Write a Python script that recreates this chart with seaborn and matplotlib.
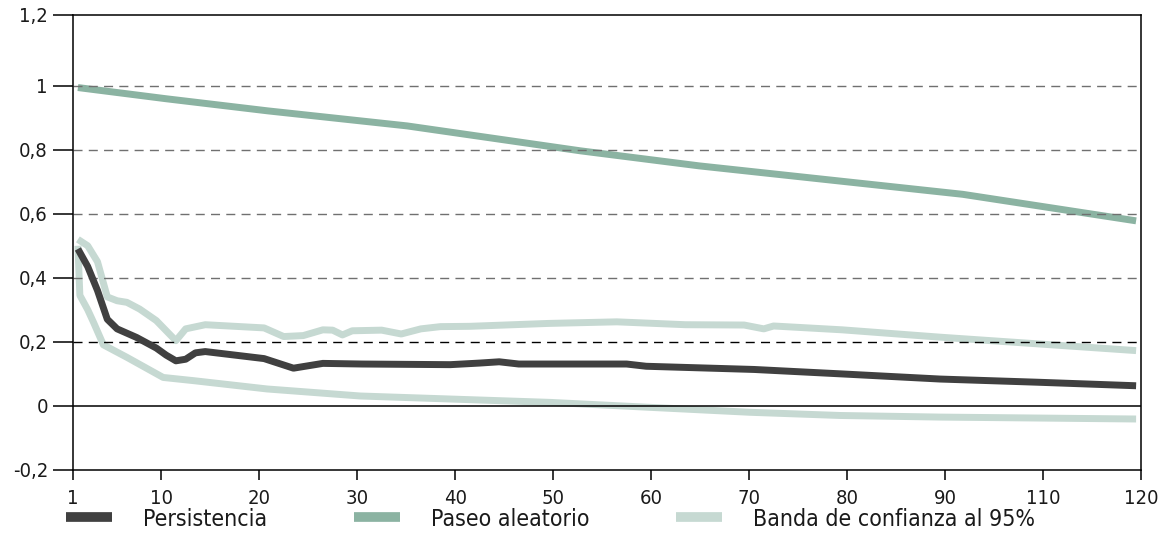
import matplotlib
matplotlib.use("Agg")
import matplotlib.pyplot as plt
import pandas as pd
import seaborn as sns

# horizonte (posición de categoría) y valores
pers_h = [1, 2, 3, 4, 5, 7, 9, 10, 11, 12, 13, 14, 20, 23, 26, 30, 39, 42, 44, 46,
          57, 59, 70, 79, 89, 99, 109]
pers_v = [0.49, 0.435, 0.36, 0.27, 0.24, 0.213, 0.18, 0.158, 0.14, 0.145, 0.165, 0.169,
          0.147, 0.117, 0.132, 0.130, 0.128, 0.133, 0.137, 0.130, 0.130, 0.123, 0.113,
          0.099, 0.083, 0.073, 0.062]

paseo_h = [1, 10, 20.4, 34.6, 52.3, 64.4, 91.3, 109]
paseo_v = [0.995, 0.96, 0.922, 0.875, 0.797, 0.75, 0.661, 0.578]

banda_sup_h = [1, 2, 3, 4, 5, 6, 7.3, 9, 11, 12, 14, 20, 22, 24, 26, 27, 28, 29, 32, 34,
               36, 38, 41, 49, 56, 63, 69, 71, 72, 79, 89, 99, 109]
banda_sup_v = [0.52, 0.50, 0.45, 0.34, 0.328, 0.323, 0.302, 0.266, 0.203, 0.24, 0.253,
               0.243, 0.216, 0.219, 0.237, 0.236, 0.221, 0.234, 0.236, 0.224, 0.240,
               0.247, 0.248, 0.257, 0.262, 0.253, 0.252, 0.240, 0.249, 0.237, 0.214,
               0.193, 0.172]

banda_inf_h = [1, 1.2, 2, 2.6, 3.6, 6, 9.7, 12.8, 20.3, 29.8, 49.2, 59.7, 69.6, 78.8,
               89, 109]
banda_inf_v = [0.50, 0.345, 0.30, 0.26, 0.19, 0.151, 0.088, 0.078, 0.052, 0.030, 0.010,
               -0.006, -0.021, -0.031, -0.036, -0.042]

series = ["Persistencia", "Paseo aleatorio", "Banda de confianza al 95%"]
colores = ["#404040", "#8bb3a2", "#c6d9d2"]

x_labels = ["1", "10", "20", "30", "40", "50", "60", "70", "80", "90", "110", "120"]
y_vals = [-0.2, 0, 0.2, 0.4, 0.6, 0.8, 1.0, 1.2]
y_labels = ["-0,2", "0", "0,2", "0,4", "0,6", "0,8", "1", "1,2"]

frames = [
    pd.DataFrame({"h": pers_h, "valor": pers_v, "serie": series[0], "tramo": "p"}),
    pd.DataFrame({"h": paseo_h, "valor": paseo_v, "serie": series[1], "tramo": "r"}),
    pd.DataFrame({"h": banda_sup_h, "valor": banda_sup_v, "serie": series[2], "tramo": "s"}),
    pd.DataFrame({"h": banda_inf_h, "valor": banda_inf_v, "serie": series[2], "tramo": "i"}),
]
df = pd.concat(frames, ignore_index=True)

sns.set_style("white")
plt.rcParams["font.family"] = ["Liberation Sans Narrow", "DejaVu Sans"]
plt.rcParams["font.stretch"] = "condensed"

fig = plt.figure(figsize=(11.67, 5.55), dpi=100)
ax = fig.add_axes([73 / 1167, 1 - 469.5 / 555, (1141 - 73) / 1167, (469.5 - 15) / 555])

sns.lineplot(data=df, x="h", y="valor", hue="serie", hue_order=series,
             palette=dict(zip(series, colores)), units="tramo", estimator=None,
             sort=False, linewidth=5, solid_capstyle="butt", ax=ax)

# banda debajo, persistencia arriba
for ln in ax.lines:
    c = matplotlib.colors.to_hex(ln.get_color())
    if c == colores[2]:
        ln.set_zorder(1.5)
    elif c == colores[1]:
        ln.set_zorder(1.6)
    else:
        ln.set_zorder(3)

top = 1.222
ax.set_ylim(-0.2, top)
n_cat = 109
ax.set_xlim(0.5, n_cat + 0.5)

for v in y_vals[3:7]:
    ax.axhline(v, color="#707070", lw=1.0, dashes=(6.5, 4.5), zorder=2.5)
ax.axhline(0.2, color="black", lw=1.0, dashes=(6.5, 4.5), zorder=2.5)
ax.axhline(0, color="black", lw=1.1, zorder=2.5)

# marcas del eje x en los límites de las categorías
x_pos = [0.5] + [10 * k - 0.5 for k in range(1, len(x_labels))]
ax.set_xticks(x_pos)
ax.set_xticklabels(x_labels)
ax.set_yticks(y_vals[:-1] + [top])
ax.set_yticklabels(y_labels)

ax.tick_params(axis="y", direction="out", length=14.5, width=1.1, color="black",
               pad=3.5, labelsize=14.5, labelcolor="#1a1a1a", left=True)
ax.tick_params(axis="x", direction="out", length=7, width=1.1, color="black",
               pad=7, labelsize=14.5, labelcolor="#1a1a1a", bottom=True)
for s in ax.spines.values():
    s.set_color("black")
    s.set_linewidth(1.1)
ax.set_xlabel("")
ax.set_ylabel("")

handles, labels = ax.get_legend_handles_labels()
ax.get_legend().remove()
leg = fig.legend(handles, labels, loc="center left",
                 bbox_to_anchor=(66 / 1167, 1 - 519 / 555), ncol=3, frameon=False,
                 fontsize=16.6, handlelength=2.0, handletextpad=1.35, columnspacing=3.75,
                 borderpad=0, borderaxespad=0, labelcolor="#1a1a1a")
for lh in leg.get_lines():
    lh.set_linewidth(7)
    lh.set_solid_capstyle("butt")

fig.savefig("out.png", dpi=100)
